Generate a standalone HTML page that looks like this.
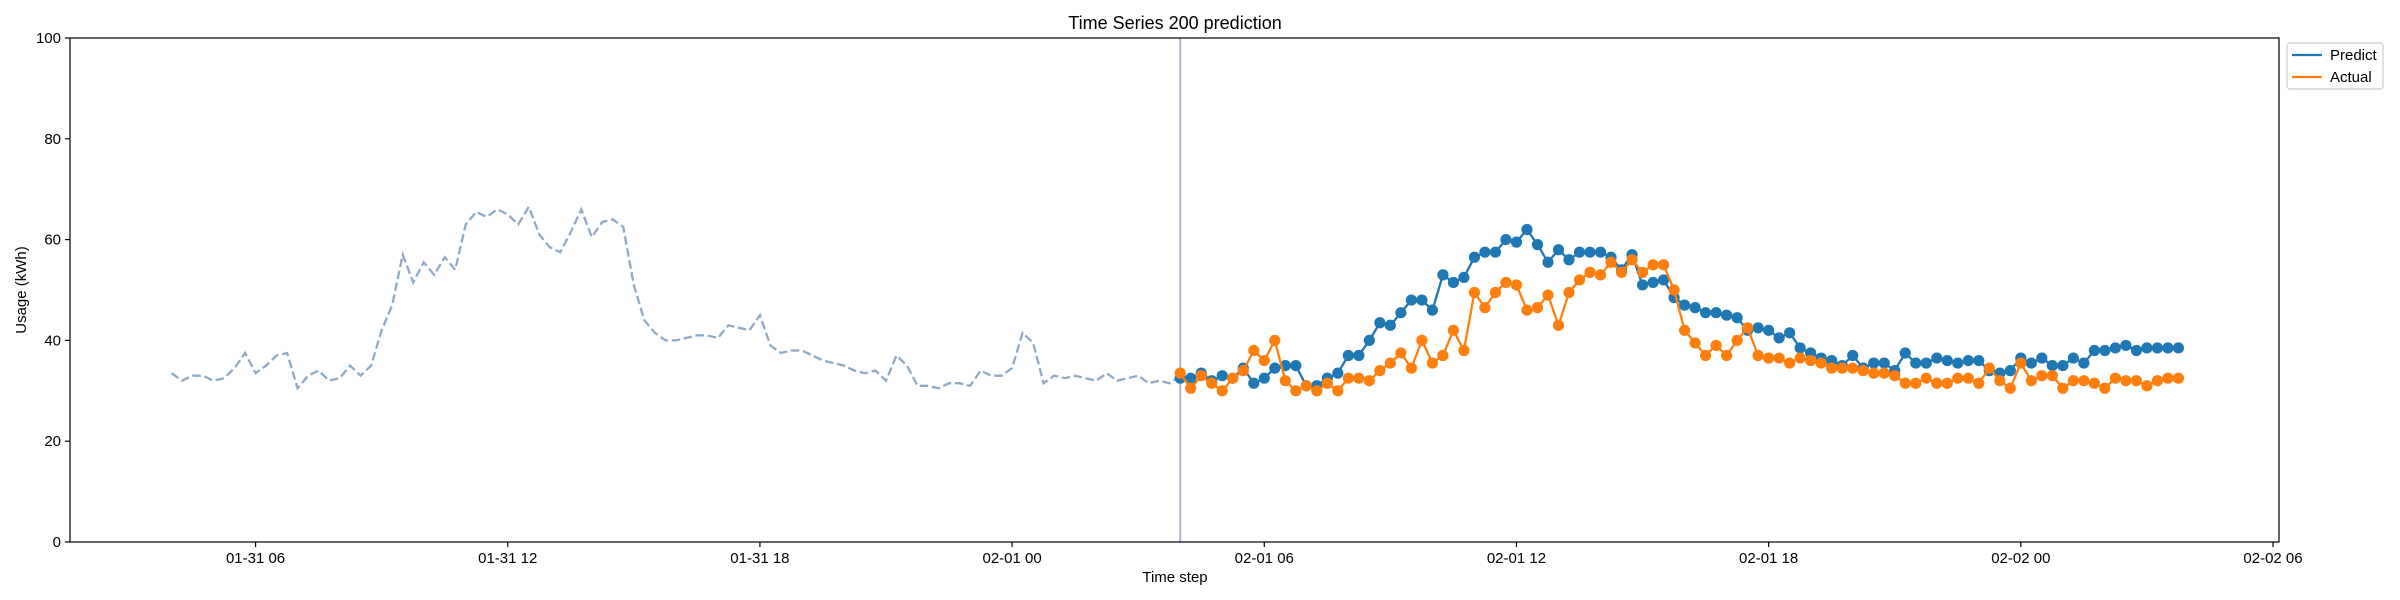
<!DOCTYPE html>
<html><head><meta charset="utf-8"><style>
html,body{margin:0;padding:0;background:#fff;}
svg{display:block;font-family:"Liberation Sans","DejaVu Sans",sans-serif;}
</style></head><body>
<svg id="chart" width="2400" height="600" viewBox="0 0 2400 600">
<rect x="0" y="0" width="2400" height="600" fill="#fff"/>
<text x="1175" y="29" text-anchor="middle" font-size="18">Time Series 200 prediction</text>
<text x="1175" y="582" text-anchor="middle" font-size="15">Time step</text>
<text transform="translate(26,290) rotate(-90)" text-anchor="middle" font-size="15">Usage (kWh)</text>
<g id="plot"></g>
<rect x="70" y="38" width="2209" height="504" fill="none" stroke="#000" stroke-width="1.2"/>
<g>
<rect x="2287" y="43" width="96" height="46" rx="3" fill="#fff" stroke="#ccc" stroke-width="1.2"/>
<line x1="2292" y1="55" x2="2322" y2="55" stroke="#1f77b4" stroke-width="2.3"/>
<text x="2330" y="60" font-size="15">Predict</text>
<line x1="2292" y1="77" x2="2322" y2="77" stroke="#ff7f0e" stroke-width="2.3"/>
<text x="2330" y="82" font-size="15">Actual</text>
</g>
</svg>
<script>
const historyValues=[33.5,32,33,33,32,32.5,34.5,37.5,33.5,35,37,37.5,30.5,33,34,32,32.5,35,33,35,42,47,57,51.5,55.5,53,56.5,54,63,65.5,64.5,66,65,63,66.5,61,58.5,57.5,61.5,66,60.5,63.5,64,62.5,51,44,41.5,40,40,40.5,41,41,40.5,43,42.5,42,45,39,37.5,38,38,37,36,35.5,35,34,33.5,34,32,37,35,31,31,30.5,31.5,31.5,31,34,33,33,34.5,41.5,39.5,31.5,33,32.5,33,32.5,32,33.5,32,32.5,33,31.5,32,31.5,33];
const predictValues=[32.5,32.5,33.5,32,33,32.5,34.5,31.5,32.5,34.5,35,35,31,31,32.5,33.5,37,37,40,43.5,43,45.5,48,48,46,53,51.5,52.5,56.5,57.5,57.5,60,59.5,62,59,55.5,58,56,57.5,57.5,57.5,56.5,54,57,51,51.5,52,48.5,47,46.5,45.5,45.5,45,44.5,42,42.5,42,40.5,41.5,38.5,37.5,36.5,36,35,37,34.5,35.5,35.5,34,37.5,35.5,35.5,36.5,36,35.5,36,36,34,33.5,34,36.5,35.5,36.5,35,35,36.5,35.5,38,38,38.5,39,38,38.5,38.5,38.5,38.5];
const actualValues=[33.5,30.5,33,31.5,30,32.5,34,38,36,40,32,30,31,30,31.5,30,32.5,32.5,32,34,35.5,37.5,34.5,40,35.5,37,42,38,49.5,46.5,49.5,51.5,51,46,46.5,49,43,49.5,52,53.5,53,55.5,53.5,56,53.5,55,55,50,42,39.5,37,39,37,40,42.5,37,36.5,36.5,35.5,36.5,36,35.5,34.5,34.5,34.5,34,33.5,33.5,33,31.5,31.5,32.5,31.5,31.5,32.5,32.5,31.5,34.5,32,30.5,35.5,32,33,33,30.5,32,32,31.5,30.5,32.5,32,32,31,32,32.5,32.5];
const yTicks=[0,20,40,60,80,100];
const xTickLabels=["01-31 06","01-31 12","01-31 18","02-01 00","02-01 06","02-01 12","02-01 18","02-02 00","02-02 06"];
const xTickHours=[2,8,14,20,26,32,38,44,50];
const historyStartHour=0, forecastStartHour=24, stepHours=0.25;

const NS="http://www.w3.org/2000/svg";
const svg=document.getElementById('chart');
const plot=document.getElementById('plot');
const X0=171.5, PXH=42.03;
function xScale(h){return X0+h*PXH;}
function yScale(v){return 542-v*5.04;}
function mk(tag,attrs,parent){const e=document.createElementNS(NS,tag);for(const k in attrs)e.setAttribute(k,attrs[k]);(parent||plot).appendChild(e);return e;}

yTicks.forEach(v=>{
  const y=yScale(v);
  const t=mk('line',{x1:65,x2:70,y1:y,y2:y,stroke:'#000','stroke-width':1.2});
  
  
  const l=mk('text',{x:61,y:y+5,'text-anchor':'end','font-size':15});
  l.textContent=v;
  
  
});
xTickHours.forEach((h,i)=>{
  const x=xScale(h);
  const t=mk('line',{x1:x,x2:x,y1:542,y2:547,stroke:'#000','stroke-width':1.2});
  
  
  const l=mk('text',{x:x,y:563,'text-anchor':'middle','font-size':15});
  l.textContent=xTickLabels[i];
  
  
});

const hp=historyValues.map((v,i)=>xScale(historyStartHour+i*stepHours).toFixed(1)+','+yScale(v).toFixed(1)).join(' ');
const hl=mk('polyline',{points:hp,fill:'none',stroke:'#8faac7','stroke-width':2.3,'stroke-dasharray':'8.5,3.7'});



const vx=xScale(forecastStartHour);
const vl=mk('line',{x1:vx,x2:vx,y1:38,y2:542,stroke:'#a6b3d4','stroke-width':2});



function series(vals,color,name){
  const pts=vals.map((v,i)=>xScale(forecastStartHour+i*stepHours).toFixed(1)+','+yScale(v).toFixed(1)).join(' ');
  const pl=mk('polyline',{points:pts,fill:'none',stroke:color,'stroke-width':2.3});
  
  
  vals.forEach((v,i)=>{
    const c=mk('circle',{cx:xScale(forecastStartHour+i*stepHours),cy:yScale(v),r:5.6,fill:color});
    
    
  });
}
series(predictValues,'#1f77b4','predict');
series(actualValues,'#ff7f0e','actual');
</script>
</body></html>
